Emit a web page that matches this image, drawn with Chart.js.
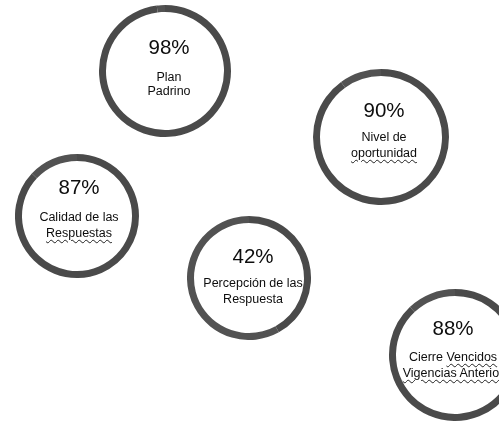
<!doctype html>
<html lang="es">
  <head>
    <meta charset="utf-8">
    <title>Indicadores</title>
    <script src="https://cdn.jsdelivr.net/npm/chart.js"></script>
    <style>
      html, body { margin: 0; padding: 0; background: #fff; }
      body { width: 499px; height: 421px; overflow: hidden; position: relative;
             font-family: "Liberation Sans", Arial, sans-serif; color: #0d0d0d; }
      .ring { position: absolute; }
      .txt { position: absolute; white-space: nowrap; text-align: center;
             transform: translateX(-50%); line-height: 16px; }
      .pct { font-size: 20.5px; line-height: 22px; }
      .lbl { font-size: 12.5px; }
      .sq { text-decoration: underline wavy #222; text-decoration-thickness: 1px;
            text-underline-offset: 2px; }
    </style>
  </head>
  <body>

<script type="text/javascript">
  // data
  var names = [
    ['Plan', 'Padrino'],
    ['Nivel de', 'oportunidad'],
    ['Calidad de las', 'Respuestas'],
    ['Percepción de las', 'Respuesta'],
    ['Cierre Vencidos', 'Vigencias Anterior']
  ];
  var values = [98, 90, 87, 42, 88];

  // where each ring sits on the page (cx, cy, radius, text centre, text offsets)
  var spots = [
    {cx: 165, cy: 71,  r: 66, tx: 169, pct: -24, l1: 6, l2: 20},
    {cx: 381, cy: 137, r: 68, tx: 384, pct: -27, l1: 0, l2: 16},
    {cx: 77,  cy: 216, r: 62, tx: 79,  pct: -29, l1: 1, l2: 17},
    {cx: 249, cy: 278, r: 62, tx: 253, pct: -22, l1: 5, l2: 21},
    {cx: 455, cy: 355, r: 66, tx: 453, pct: -27, l1: 2, l2: 18}
  ];
  // words that carry the spell-check squiggle in the original
  var squiggled = ['oportunidad', 'Respuestas', 'Vencidos', 'Vigencias Anterior'];

  function addText(cls, text, x, y, h) {
    var d = document.createElement('div');
    d.className = 'txt ' + cls;
    d.style.left = x + 'px';
    d.style.top = (y - h / 2) + 'px';
    var html = text;
    squiggled.forEach(function (w) {
      if (html.indexOf(w) >= 0) html = html.replace(w, '<span class="sq">' + w + '</span>');
    });
    d.innerHTML = html;
    document.body.appendChild(d);
  }

  values.forEach(function (v, i) {
    var s = spots[i];
    var cv = document.createElement('canvas');
    cv.className = 'ring';
    cv.width = s.r * 2;
    cv.height = s.r * 2;
    cv.style.left = (s.cx - s.r) + 'px';
    cv.style.top = (s.cy - s.r) + 'px';
    document.body.appendChild(cv);

    new Chart(cv, {
      type: 'doughnut',
      data: {
        labels: ['valor', 'resto'],
        datasets: [{
          data: [v, 100 - v],
          backgroundColor: ['#4a4a4a', '#525252'],
          borderWidth: 0
        }]
      },
      options: {
        responsive: false,
        animation: false,
        cutout: s.r - 7,
        layout: { padding: 0 },
        plugins: { legend: { display: false }, tooltip: { enabled: false } }
      }
    });

    addText('pct', v + '%', s.tx, s.cy + s.pct, 22);
    addText('lbl', names[i][0], s.tx, s.cy + s.l1, 16);
    addText('lbl', names[i][1], s.tx, s.cy + s.l2, 16);
  });
</script>
  </body>
</html>
